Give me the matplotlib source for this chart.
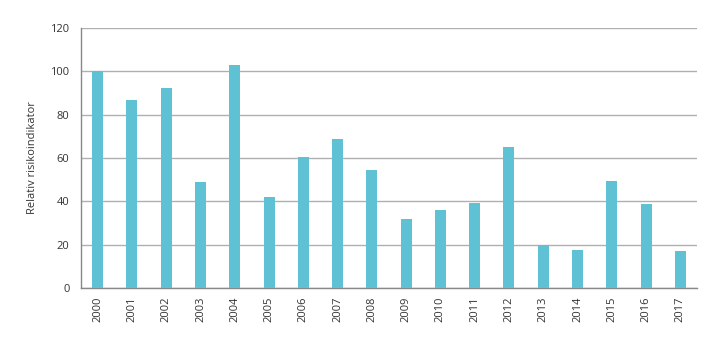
import matplotlib
matplotlib.use("Agg")
import matplotlib.pyplot as plt

# Relative risk indicator per year (2000 = 100)
years = [str(y) for y in range(2000, 2018)]
values = [100, 87.0, 92.1, 49.0, 102.9, 42.2, 60.5, 69.0, 54.5,
          32.1, 36.1, 39.4, 65.2, 20.1, 17.6, 49.6, 38.9, 17.0]
y_ticks = [0, 20, 40, 60, 80, 100, 120]

plt.rcParams['font.family'] = ['Open Sans', 'DejaVu Sans']

fig = plt.figure(figsize=(7.19, 3.41), dpi=100)
ax = fig.add_axes([0.112, 0.155, 0.858, 0.763])

x = range(len(years))
ax.bar(x, values, width=0.32, color='#5fc2d4', zorder=3)

ax.set_xlim(-0.5, len(years) - 0.5)
ax.set_ylim(0, 120)
ax.set_yticks(y_ticks)
ax.set_xticks(list(x))
ax.set_xticklabels(years, rotation=90)

ax.grid(axis='y', color='#b0b0b0', linewidth=1, zorder=0)
for side in ['top', 'right']:
    ax.spines[side].set_visible(False)
for side in ['left', 'bottom']:
    ax.spines[side].set_color('#888888')
    ax.spines[side].set_linewidth(1)

ax.tick_params(axis='both', length=0, labelsize=8, colors='#333333')
ax.tick_params(axis='y', pad=8)
ax.tick_params(axis='x', pad=6)

ax.set_ylabel('Relativ risikoindikator', fontsize=8, color='#333333', labelpad=9)

fig.savefig('out.png', dpi=100)
